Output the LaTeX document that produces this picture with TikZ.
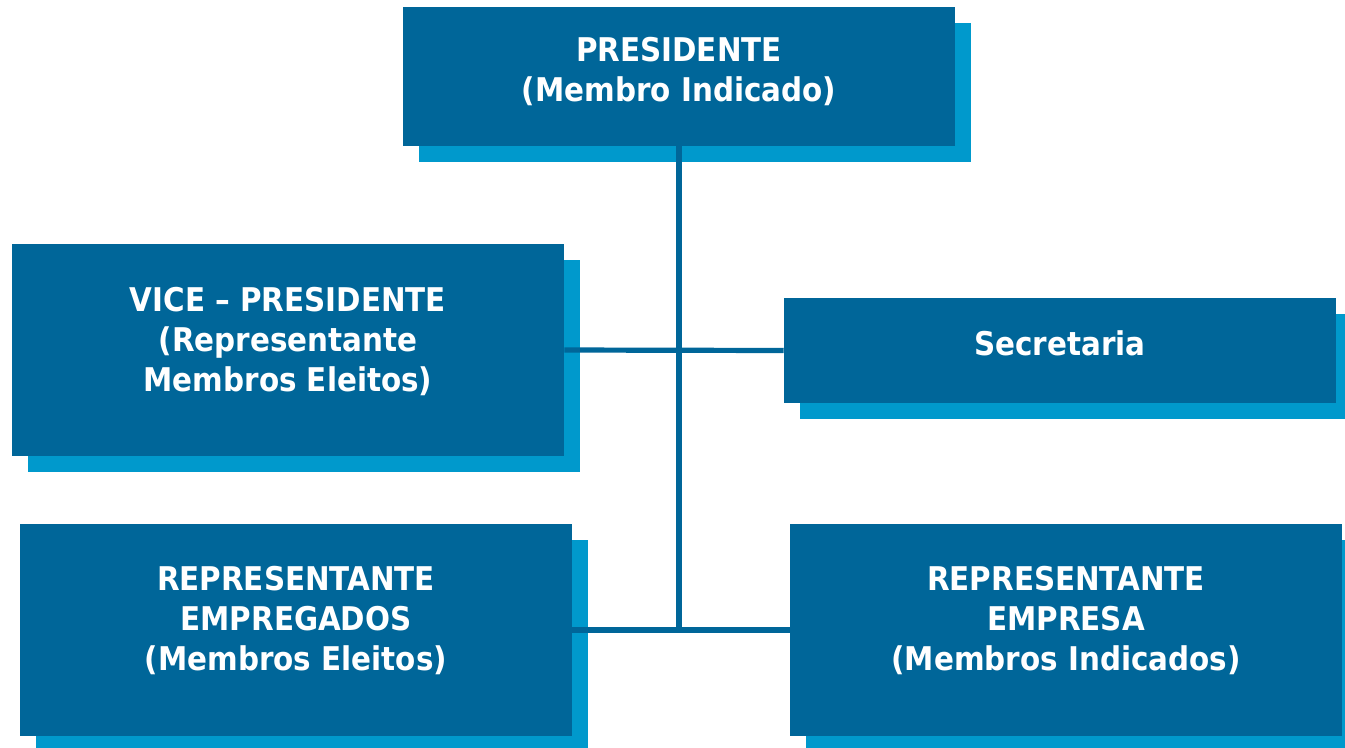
\documentclass[tikz,border=0pt]{standalone}
\usepackage{fontspec}
\setmainfont{DejaVu Sans Condensed}
\usetikzlibrary{shadows,calc}
\definecolor{boxblue}{RGB}{0,102,153}
\definecolor{shadowblue}{RGB}{0,153,204}
\begin{document}
\begin{tikzpicture}[x=0.75pt,y=-0.75pt,
  orgbox/.style={rectangle, fill=boxblue, draw=none, inner sep=0pt,
    minimum width=414pt,
    drop shadow={shadow xshift=12pt, shadow yshift=-12pt, fill=shadowblue, opacity=1}},
  boxtext/.style={text=white, align=center, font=\fontsize{24.5pt}{30pt}\selectfont\bfseries, inner sep=0pt},
  link/.style={draw=boxblue, line width=3.9pt}]
\useasboundingbox (0,0) rectangle (1345,747);
\node[orgbox, minimum height=104.25pt] (p) at (679,76.5) {};
\node[orgbox, minimum height=159pt] (vp) at (288,350) {};
\node[orgbox, minimum height=78.75pt] (sec) at (1060,350.5) {};
\node[orgbox, minimum height=159pt] (re) at (296,630) {};
\node[orgbox, minimum height=159pt] (rp) at (1066,630) {};
\node[boxtext] (pt) at (679,72) {PRESIDENTE\\(Membro Indicado)};
\node[boxtext] (vpt) at (288,342) {VICE – PRESIDENTE\\(Representante\\Membros Eleitos)};
\node[boxtext] (sect) at (1060,343) {Secretaria};
\node[boxtext] (ret) at (296,621) {REPRESENTANTE\\EMPREGADOS\\(Membros Eleitos)};
\node[boxtext] (rpt) at (1066,621) {REPRESENTANTE\\EMPRESA\\(Membros Indicados)};
\coordinate (bend) at (p.south |- re.east);
\draw[link] (p.south) -- (bend);
\draw[link] (vp.east) -- (sec.west);
\draw[link] (re.east) -- (rp.west);
\end{tikzpicture}
\end{document}
